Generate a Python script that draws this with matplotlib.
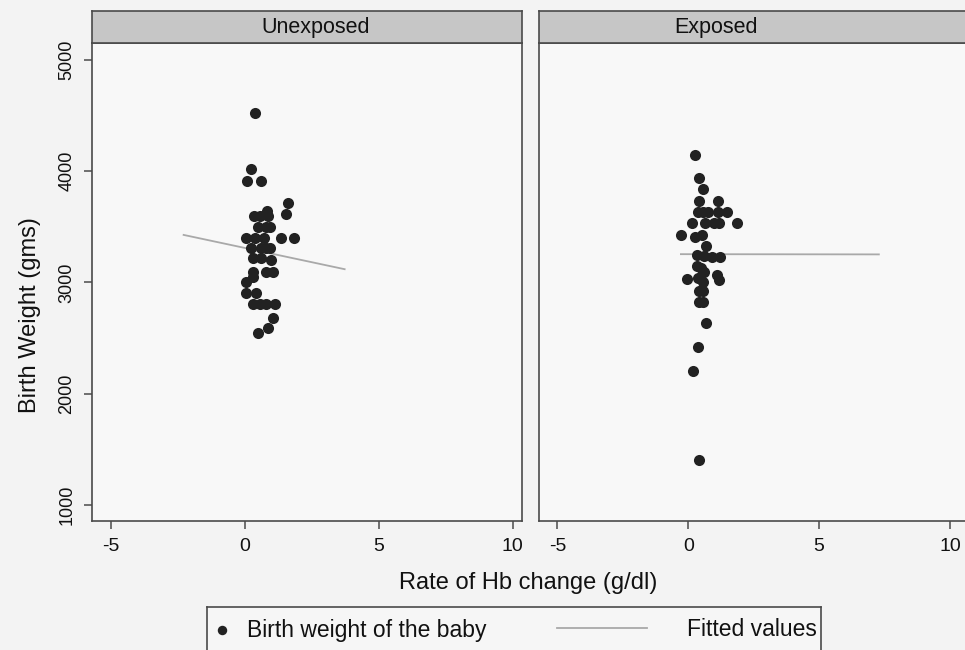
import numpy as np
import matplotlib
matplotlib.use("Agg")
import matplotlib.pyplot as plt
from matplotlib.lines import Line2D

plt.rcParams["font.family"] = ["Liberation Sans", "DejaVu Sans"]

# Birth weight (gms) vs rate of Hb change (g/dl).
unexp_hb = [0.37, 0.22, 0.09, 0.62, 1.62, 1.53, 0.35, 0.56, 0.87, 0.85,
            0.50, 0.81, 0.94, 0.06, 0.37, 0.72, 1.34, 1.84, 0.25, 0.62,
            0.81, 0.95, 0.31, 0.62, 0.99, 0.31, 0.81, 1.06, 0.31, 0.06,
            0.06, 0.43, 0.31, 0.56, 0.81, 1.12, 1.06, 0.87, 0.50]
unexp_bw = [4525, 4019, 3914, 3914, 3711, 3612, 3600, 3600, 3600, 3640,
            3501, 3501, 3501, 3402, 3402, 3402, 3402, 3402, 3306, 3306,
            3306, 3306, 3216, 3216, 3200, 3096, 3096, 3096, 3051, 3006,
            2901, 2901, 2801, 2801, 2801, 2801, 2683, 2587, 2542]

exp_hb = [0.24, 0.43, 0.58, 0.43, 1.14, 0.39, 0.58, 0.77, 1.14, 1.48,
          0.14, 0.64, 1.00, 1.18, 1.85, -0.28, 0.26, 0.51, 0.68, 0.33,
          0.60, 0.89, 1.20, 0.48, 0.60, 0.35, -0.05, 0.39, 0.55, 1.10,
          1.18, 0.43, 0.55, 0.43, 0.55, 0.68, 0.39, 0.18, 0.41]
exp_bw = [4145, 3935, 3836, 3731, 3731, 3635, 3635, 3635, 3635, 3635,
          3536, 3536, 3536, 3536, 3536, 3426, 3411, 3426, 3327, 3246,
          3240, 3231, 3225, 3129, 3096, 3150, 3028, 3037, 3000, 3066,
          3022, 2926, 2926, 2821, 2821, 2632, 2417, 2207, 1404]

# Fitted values (linear fit) end points per panel
unexp_fit_x = [-2.28, 3.73]
unexp_fit_y = [3426, 3118]
exp_fit_x = [-0.28, 7.28]
exp_fit_y = [3253, 3251]

panels = ["Unexposed", "Exposed"]
x_ticks = [-5, 0, 5, 10]
y_ticks = [1000, 2000, 3000, 4000, 5000]

DOT = "#222222"
FIT = "#a9a9a9"
EDGE = "#4a4a4a"
STRIP = "#c6c6c6"

fig = plt.figure(figsize=(9.65, 6.5), dpi=100)
fig.patch.set_facecolor("#f3f3f3")

W, H = 965.0, 650.0
plot_top, plot_bot = 43, 521
strip_top = 11
# the scan cuts the right panel off at the page edge
lefts = [92, 539]
widths = [430, 432]
xlims = [(-5.7, 10.35), (-5.7, 10.8)]
title_x = [0.52, 0.41]

data = [(unexp_hb, unexp_bw, unexp_fit_x, unexp_fit_y),
        (exp_hb, exp_bw, exp_fit_x, exp_fit_y)]

for i, (name, (hx, bw, fx, fy)) in enumerate(zip(panels, data)):
    ax = fig.add_axes([lefts[i] / W, (H - plot_bot) / H, widths[i] / W, (plot_bot - plot_top) / H])
    ax.set_facecolor("#f8f8f8")
    ax.plot(fx, fy, color=FIT, lw=1.3, zorder=2)
    ax.plot(hx, bw, "o", color=DOT, markersize=8, markeredgewidth=0, zorder=3)
    ax.set_xlim(*xlims[i])
    ax.set_ylim(856, 5150)
    ax.set_xticks(x_ticks)
    ax.set_xticklabels([str(t) for t in x_ticks], fontsize=14)
    ax.set_yticks(y_ticks)
    ax.tick_params(axis="both", direction="out", length=6, width=1.1, color=EDGE, pad=6,
                   labelcolor="#111111")
    if i == 0:
        ax.set_yticklabels([str(t) for t in y_ticks], rotation=90, va="center", fontsize=13)
    else:
        ax.tick_params(axis="y", left=False, labelleft=False)
    for sp in ax.spines.values():
        sp.set_color(EDGE)
        sp.set_linewidth(1.2)

    sax = fig.add_axes([lefts[i] / W, (H - plot_top) / H, widths[i] / W, (plot_top - strip_top) / H])
    sax.set_facecolor(STRIP)
    sax.set_xticks([])
    sax.set_yticks([])
    for sp in sax.spines.values():
        sp.set_color(EDGE)
        sp.set_linewidth(1.2)
    sax.text(title_x[i], 0.5, name, ha="center", va="center", fontsize=15.5, color="#111111")

fig.text(30 / W, 1 - 315 / H, "Birth Weight (gms)", rotation=90, ha="center", va="center",
         fontsize=17, color="#111111")
fig.text(528 / W, 1 - 583 / H, "Rate of Hb change (g/dl)", ha="center", va="center",
         fontsize=17, color="#111111")

# legend box drawn as a small axes so the marker sits at the left as in Stata
lax = fig.add_axes([207 / W, (H - 652) / H, 614 / W, 45 / H])
lax.set_facecolor("#f6f6f6")
lax.set_xlim(0, 614)
lax.set_ylim(0, 45)
lax.set_xticks([])
lax.set_yticks([])
for sp in lax.spines.values():
    sp.set_color(EDGE)
    sp.set_linewidth(1.2)
lax.add_line(Line2D([15], [22], marker="o", color=DOT, markersize=6.8, markeredgewidth=0))
lax.text(40, 22, "Birth weight of the baby", ha="left", va="center", fontsize=16.5, color="#111111")
lax.add_line(Line2D([350, 440], [24, 24], color=FIT, lw=1.3))
lax.text(610, 22, "Fitted values", ha="right", va="center", fontsize=16.5, color="#111111")

fig.savefig("out.png", dpi=100, facecolor=fig.get_facecolor())
